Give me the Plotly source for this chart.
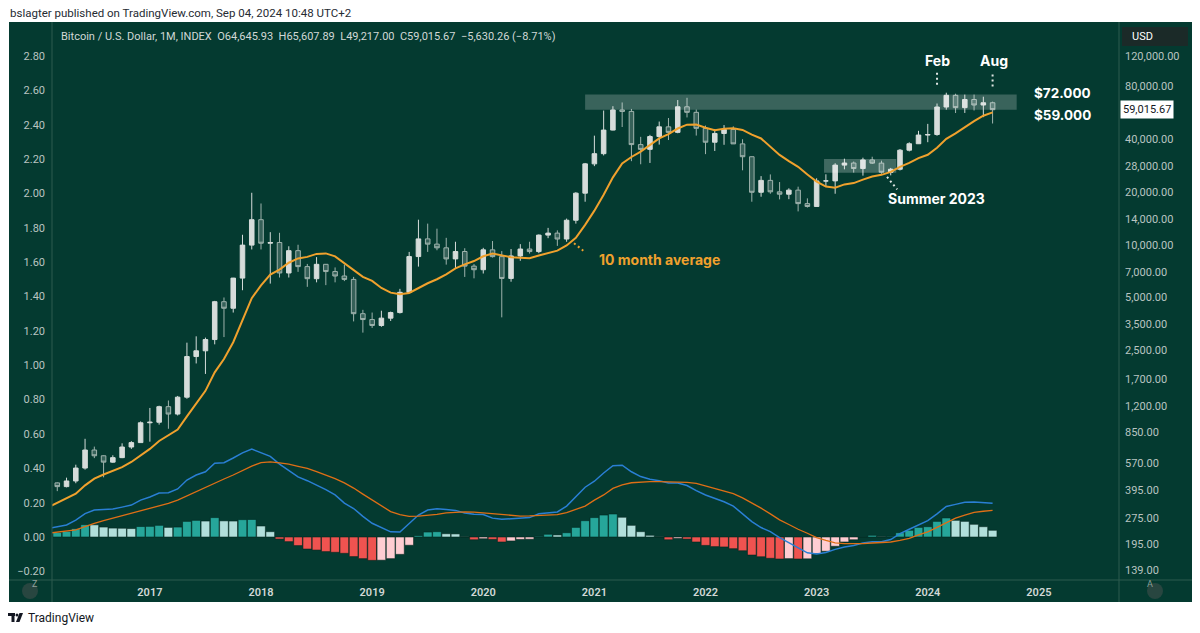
import numpy as np
import plotly.graph_objects as go

# ---------------- data ----------------
months = [f"{y}-{m:02d}" for y in range(2016, 2025) for m in range(1, 13)
          if (2016, 3) <= (y, m) <= (2024, 8)]

opens = [437, 416, 448, 531, 673, 624, 574, 609, 700, 742,
         963, 970, 1190, 1080, 1348, 2300, 2480, 2875, 4730, 4340, 6450, 9950,
         13900, 10200, 10300, 6900, 9250, 7500, 6400, 7730, 7030, 6630, 6340, 4040,
         3740, 3460, 3810, 4100, 5350, 8560, 10800, 10080, 9600, 8300, 9150, 7550,
         7200, 9350, 8550, 6420, 8630, 9450, 9140, 11350, 11650, 10780, 13800, 19700,
         28950, 33100, 45150, 58800, 57700, 37300, 35040, 41460, 47100, 43800, 61300, 57000,
         46200, 38480, 43180, 45530, 37650, 31800, 19930, 23300, 20050, 19430, 20500, 17170,
         16540, 23130, 23150, 28480, 29270, 27220, 30480, 29230, 25930, 26970, 34650, 37720,
         42280, 42580, 61130, 71290, 60640, 67490, 62760, 64645.93]
highs = [440, 468, 555, 780, 704, 627, 628, 735, 756, 980,
         1170, 1205, 1290, 1370, 2760, 3000, 2950, 4780, 5000, 6470, 11400, 19800,
         17200, 11800, 11700, 9800, 10000, 7770, 8500, 7750, 7420, 7700, 6550, 4250,
         4100, 4200, 4150, 5600, 9100, 13900, 13200, 12350, 10950, 10400, 9550, 7750,
         9600, 10500, 9200, 9450, 10080, 10400, 11450, 12480, 12080, 14100, 19950, 29300,
         41950, 58350, 61800, 64900, 59600, 41300, 42400, 50500, 52900, 67000, 69000, 59100,
         47900, 45800, 48200, 47400, 40000, 31900, 24650, 25200, 22800, 21000, 21450, 18400,
         23950, 25250, 29200, 31000, 29850, 31400, 31800, 30200, 27450, 35200, 38450, 44700,
         48970, 64000, 73780, 72800, 71980, 72000, 70000, 65607.89]
lows = [392, 412, 435, 520, 605, 470, 569, 605, 683, 742,
        751, 940, 890, 1060, 1320, 2100, 1830, 2700, 2970, 4100, 5500, 9400,
        9400, 6000, 6500, 6500, 7000, 5750, 6100, 5880, 6100, 6200, 3650, 3150,
        3350, 3400, 3670, 4050, 5300, 7500, 9100, 9300, 7700, 7300, 6550, 6430,
        6850, 8450, 3850, 6150, 8100, 8900, 8950, 10900, 9850, 10400, 13200, 17600,
        28100, 32350, 44950, 47000, 30000, 28800, 29300, 37300, 39600, 43300, 53300, 42000,
        32900, 34300, 37200, 37600, 26600, 17600, 18800, 19550, 18150, 18200, 15500, 16300,
        16500, 21400, 19550, 26950, 25800, 24800, 28900, 25400, 24900, 26550, 34100, 37600,
        38500, 41900, 59000, 56500, 56550, 58400, 53500, 49217.00]
closes = [416, 448, 531, 673, 624, 574, 609, 700, 742, 963,
          970, 1190, 1080, 1348, 2300, 2480, 2875, 4730, 4340, 6450, 9950, 13900,
          10200, 10300, 6900, 9250, 7500, 6400, 7730, 7030, 6630, 6340, 4040, 3740,
          3460, 3810, 4100, 5350, 8560, 10800, 10080, 9600, 8300, 9150, 7550, 7200,
          9350, 8550, 6420, 8630, 9450, 9140, 11350, 11650, 10780, 13800, 19700, 28950,
          33100, 45150, 58800, 57700, 37300, 35040, 41460, 47100, 43800, 61300, 57000, 46200,
          38480, 43180, 45530, 37650, 31800, 19930, 23300, 20050, 19430, 20500, 17170, 16540,
          23130, 23150, 28480, 29270, 27220, 30480, 29230, 25930, 26970, 34650, 37720, 42280,
          42580, 61130, 71290, 60640, 67490, 62760, 64645.93, 59015.67]

# line series start one month earlier (Feb 2016) so they reach the left edge
line_months = ["2016-02"] + months
ma10 = [317, 336, 354, 379, 423, 462, 488, 511, 538, 575, 628,
        683, 758, 813, 880, 1048, 1238, 1465, 1868, 2228, 2776, 3679, 4950,
        5862, 6758, 7218, 7895, 8357, 8524, 8863, 8921, 8584, 7828, 7212, 6556,
        6212, 5668, 5328, 5223, 5306, 5683, 6028, 6354, 6780, 7321, 7730, 8069,
        8594, 8914, 8700, 8483, 8420, 8374, 8679, 8929, 9252, 9912, 10947, 12987,
        15655, 19307, 24242, 29098, 31693, 34032, 37100, 40430, 42840, 46075, 48465, 48570,
        46538, 45086, 45909, 46170, 45204, 42487, 40437, 36312, 32555, 29985, 27854, 25190,
        22950, 21500, 21168, 22102, 22494, 23537, 24517, 25060, 26040, 27851, 29310, 31223,
        32633, 35819, 40226, 43242, 47068, 50751, 54519, 56955]
macd = [0.05, 0.06, 0.07, 0.098, 0.136, 0.157, 0.16, 0.163, 0.174, 0.186, 0.215,
        0.233, 0.256, 0.258, 0.28, 0.332, 0.361, 0.38, 0.43, 0.433, 0.46, 0.49, 0.512,
        0.49, 0.47, 0.425, 0.39, 0.35, 0.328, 0.303, 0.276, 0.245, 0.197, 0.166, 0.12,
        0.08, 0.055, 0.03, 0.029, 0.078, 0.128, 0.157, 0.165, 0.16, 0.155, 0.14, 0.133,
        0.131, 0.11, 0.103, 0.107, 0.112, 0.113, 0.135, 0.14, 0.146, 0.18, 0.235, 0.29,
        0.325, 0.373, 0.415, 0.418, 0.38, 0.352, 0.336, 0.328, 0.315, 0.315, 0.3, 0.27,
        0.245, 0.226, 0.205, 0.18, 0.135, 0.09, 0.055, 0.031, -0.004, -0.033, -0.064, -0.092,
        -0.099, -0.09, -0.072, -0.058, -0.05, -0.035, -0.028, -0.028, -0.015, 0.02, 0.045, 0.068,
        0.095, 0.135, 0.178, 0.19, 0.203, 0.204, 0.201, 0.196]
signal = [0.022, 0.027, 0.033, 0.041, 0.06, 0.08, 0.095, 0.109, 0.123, 0.138, 0.152,
          0.167, 0.181, 0.196, 0.215, 0.24, 0.264, 0.29, 0.316, 0.338, 0.361, 0.387, 0.413,
          0.433, 0.437, 0.432, 0.425, 0.412, 0.4, 0.381, 0.361, 0.34, 0.315, 0.285, 0.25,
          0.215, 0.185, 0.148, 0.13, 0.12, 0.122, 0.126, 0.132, 0.14, 0.144, 0.146, 0.145,
          0.141, 0.137, 0.131, 0.127, 0.122, 0.123, 0.125, 0.128, 0.13, 0.142, 0.16, 0.18,
          0.215, 0.245, 0.283, 0.303, 0.316, 0.321, 0.323, 0.323, 0.322, 0.321, 0.318, 0.312,
          0.297, 0.28, 0.266, 0.253, 0.228, 0.2, 0.168, 0.135, 0.1, 0.073, 0.045, 0.022,
          -0.004, -0.02, -0.034, -0.038, -0.039, -0.038, -0.035, -0.033, -0.029, -0.02, -0.008, 0.012,
          0.03, 0.056, 0.085, 0.11, 0.128, 0.143, 0.15, 0.155]
hist = [0.026, 0.033, 0.049, 0.072, 0.071, 0.058, 0.052, 0.051, 0.049, 0.061,
        0.062, 0.068, 0.056, 0.058, 0.091, 0.097, 0.093, 0.113, 0.094, 0.093, 0.101, 0.102,
        0.064, 0.031, -0.012, -0.027, -0.05, -0.07, -0.076, -0.085, -0.089, -0.095, -0.114, -0.126,
        -0.136, -0.135, -0.126, -0.101, -0.048, 0.008, 0.029, 0.031, 0.019, 0.018, 0.002, -0.016,
        -0.01, -0.014, -0.029, -0.023, -0.014, -0.013, 0.004, 0.016, 0.012, 0.025, 0.056, 0.095,
        0.113, 0.128, 0.134, 0.115, 0.068, 0.031, 0.01, 0.002, -0.016, -0.008, -0.012, -0.029,
        -0.049, -0.056, -0.058, -0.068, -0.08, -0.105, -0.115, -0.124, -0.128, -0.126, -0.128, -0.127,
        -0.097, -0.083, -0.054, -0.029, -0.016, 0.002, 0.01, 0.003, 0.004, 0.025, 0.039, 0.056,
        0.06, 0.091, 0.111, 0.097, 0.091, 0.074, 0.06, 0.039]

year_labels = ["2017", "2018", "2019", "2020", "2021", "2022", "2023", "2024", "2025"]
left_ticks = [-0.2, 0.0, 0.2, 0.4, 0.6, 0.8, 1.0, 1.2, 1.4, 1.6, 1.8, 2.0, 2.2, 2.4, 2.6, 2.8]
right_ticks = [139, 195, 275, 395, 570, 850, 1200, 1700, 2500, 3500, 5000, 7000,
               10000, 14000, 20000, 28000, 40000, 80000, 120000]
resistance = [59000, 72000]          # upper zone
summer_zone = [25800, 30900]         # summer 2023 range

# ---------------- helpers ----------------
pos = {m: i for i, m in enumerate(months)}
xi = list(range(len(months)))
line_x = list(range(-1, len(months)))
def mpos(label):
    y, m = map(int, label.split("-"))
    return (y - 2016) * 12 + (m - 3)

BG = "#043a30"
SEP = "#2c5a4f"
TXT = "#b9c4c1"

TEAL, LTEAL, RED, PINK = "#26a69a", "#b2dfdb", "#ef5350", "#ffcdd2"
hcol = []
prev = None
for v in hist:
    if v >= 0:
        hcol.append(TEAL if (prev is None or v > prev) else LTEAL)
    else:
        hcol.append(PINK if (prev is not None and v > prev) else RED)
    prev = v

fig = go.Figure()

# MACD pane (left scale)
fig.add_trace(go.Bar(x=xi, y=hist, marker=dict(color=hcol, line=dict(color="rgba(0,35,28,0.55)", width=1)),
                     yaxis="y", hoverinfo="skip", showlegend=False))
fig.add_trace(go.Scatter(x=line_x, y=macd, mode="lines", line=dict(color="#2a7fd4", width=1.5),
                         yaxis="y", hoverinfo="skip", showlegend=False))
fig.add_trace(go.Scatter(x=line_x, y=signal, mode="lines", line=dict(color="#df6f16", width=1.3),
                         yaxis="y", hoverinfo="skip", showlegend=False))

# zones (price scale)
zx0, zx1 = pos["2020-12"], pos["2024-08"] + 2.6
fig.add_trace(go.Scatter(x=[zx0, zx1, zx1, zx0, zx0],
                         y=[resistance[0], resistance[0], resistance[1], resistance[1], resistance[0]],
                         mode="lines", line=dict(width=0), fill="toself", fillcolor="rgba(255,255,255,0.21)",
                         yaxis="y2", hoverinfo="skip", showlegend=False))
sx0, sx1 = pos["2023-01"] + 0.8, pos["2023-09"] + 0.6
fig.add_trace(go.Scatter(x=[sx0, sx1, sx1, sx0, sx0],
                         y=[summer_zone[0], summer_zone[0], summer_zone[1], summer_zone[1], summer_zone[0]],
                         mode="lines", line=dict(width=0), fill="toself", fillcolor="rgba(255,255,255,0.24)",
                         yaxis="y2", hoverinfo="skip", showlegend=False))

# candles
fig.add_trace(go.Candlestick(x=xi, open=opens, high=highs, low=lows, close=closes, yaxis="y2",
                             increasing=dict(line=dict(color="#d6dcda", width=1), fillcolor="#d6dcda"),
                             decreasing=dict(line=dict(color="#9fb3ad", width=1), fillcolor="rgba(255,255,255,0.2)"),
                             whiskerwidth=0, hoverinfo="skip", showlegend=False))
# 10 month average
fig.add_trace(go.Scatter(x=line_x, y=ma10, mode="lines", line=dict(color="#f0a12d", width=2),
                         yaxis="y2", hoverinfo="skip", showlegend=False))

# dotted pointer lines
def dots(x0, y0, x1, y1, color):
    fig.add_trace(go.Scatter(x=[x0, x1], y=[y0, y1], mode="lines",
                             line=dict(color=color, width=2, dash="2px,3px"),
                             yaxis="y2", hoverinfo="skip", showlegend=False))
dots(pos["2024-02"], 82000, pos["2024-02"], 96000, "#dfe5e3")
dots(pos["2024-08"], 80000, pos["2024-08"], 96000, "#dfe5e3")
dots(pos["2023-09"] - 0.4, 24400, pos["2023-09"] + 0.7, 20700, "#dfe5e3")
dots(pos["2020-11"] - 0.2, 10200, pos["2020-11"] + 0.8, 9250, "#f0a12d")

L, R, T, B = 52, 81, 22, 53
W, H = 1200, 633
pw, ph = W - L - R, H - T - B
def px(x): return (x - L) / pw
def py(y): return (H - B - y) / ph

shapes = [
    dict(type="rect", xref="paper", yref="paper", x0=px(9), x1=px(1192), y0=py(602), y1=py(22),
         fillcolor=BG, line=dict(width=0), layer="below"),
    dict(type="line", xref="paper", yref="paper", x0=px(9), x1=px(1192), y0=0, y1=0,
         line=dict(color=SEP, width=1)),
    dict(type="line", xref="paper", yref="paper", x0=0, x1=0, y0=py(602), y1=1,
         line=dict(color=SEP, width=1)),
    dict(type="line", xref="paper", yref="paper", x0=1, x1=1, y0=py(602), y1=1,
         line=dict(color=SEP, width=1)),
    dict(type="rect", xref="paper", yref="paper", x0=px(1122), x1=px(1188), y0=py(46), y1=py(27),
         fillcolor="#1b2a28", line=dict(width=0)),
    dict(type="circle", xref="paper", yref="paper", x0=px(22), x1=px(38), y0=py(599), y1=py(583),
         fillcolor="#284640", line=dict(width=0)),
    dict(type="circle", xref="paper", yref="paper", x0=px(1147), x1=px(1163), y0=py(599), y1=py(583),
         fillcolor="#284640", line=dict(width=0)),
    # TradingView logo mark
    dict(type="rect", xref="paper", yref="paper", x0=px(8), x1=px(15), y0=py(616), y1=py(613),
         fillcolor="#131722", line=dict(width=0)),
    dict(type="rect", xref="paper", yref="paper", x0=px(11.5), x1=px(14.5), y0=py(622), y1=py(613),
         fillcolor="#131722", line=dict(width=0)),
    dict(type="circle", xref="paper", yref="paper", x0=px(15.5), x1=px(18.5), y0=py(616.5), y1=py(613.5),
         fillcolor="#131722", line=dict(width=0)),
    dict(type="path", xref="paper", yref="paper",
         path=f"M {px(19.5)},{py(613)} L {px(23)},{py(613)} L {px(19.5)},{py(622)} L {px(16)},{py(622)} Z",
         fillcolor="#131722", line=dict(width=0)),
]

o, h, l, c = opens[-1], highs[-1], lows[-1], closes[-1]
chg = c - o
header = (f"Bitcoin / U.S. Dollar, 1M, INDEX  O{o:,.2f}  H{h:,.2f}  L{l:,.2f}  C{c:,.2f}  "
          f"{chg:,.2f} ({chg / o * 100:.2f}%)").replace("-", "\u2212")

def lg(v): return float(np.log10(v))
ann = [
    dict(text="bslagter published on TradingView.com, Sep 04, 2024 10:48 UTC+2", xref="paper", yref="paper",
         x=px(8), y=py(13), xanchor="left", yanchor="middle", showarrow=False,
         font=dict(family="Roboto", size=11.5, color="#262b33")),
    dict(text=header, xref="paper", yref="paper", x=px(59), y=py(37), xanchor="left", yanchor="middle",
         showarrow=False, font=dict(family="Roboto", size=11, color="#d1d8d6")),
    dict(text="TradingView", xref="paper", yref="paper", x=px(26), y=py(618), xanchor="left",
         yanchor="middle", showarrow=False, font=dict(family="Roboto", size=12, color="#131722")),
    dict(text="USD", xref="paper", yref="paper", x=px(1130), y=py(37), xanchor="left", yanchor="middle",
         showarrow=False, font=dict(family="Roboto", size=11, color="#ffffff")),
    dict(text=f"{c:,.2f}", xref="paper", yref="y2", x=px(1120), y=lg(c), xanchor="left", yanchor="middle",
         showarrow=False, bgcolor="#ffffff", borderpad=2,
         font=dict(family="Roboto", size=11, color="#131722")),
    dict(text="Z", xref="paper", yref="paper", x=px(30), y=py(591), showarrow=False,
         font=dict(family="Roboto", size=9, color="#8fa09b")),
    dict(text="A", xref="paper", yref="paper", x=px(1155), y=py(591), showarrow=False,
         font=dict(family="Roboto", size=9, color="#8fa09b")),
    dict(text="<b>Feb</b>", x=pos["2024-02"], y=lg(112000), xref="x", yref="y2", showarrow=False,
         font=dict(family="Inter", size=14, color="#ffffff")),
    dict(text="<b>Aug</b>", x=pos["2024-08"] + 0.2, y=lg(112000), xref="x", yref="y2", showarrow=False,
         font=dict(family="Inter", size=14, color="#ffffff")),
    dict(text="<b>$72.000</b>", x=pos["2024-08"] + 4.3, y=lg(73400), xref="x", yref="y2", xanchor="left",
         showarrow=False, font=dict(family="Inter", size=13.5, color="#ffffff")),
    dict(text="<b>$59.000</b>", x=pos["2024-08"] + 4.3, y=lg(55000), xref="x", yref="y2", xanchor="left",
         showarrow=False, font=dict(family="Inter", size=13.5, color="#ffffff")),
    dict(text="<b>Summer 2023</b>", x=pos["2024-01"] + 0.9, y=lg(18250), xref="x", yref="y2",
         showarrow=False, font=dict(family="Inter", size=14, color="#ffffff")),
    dict(text="<b>10 month average</b>", x=pos["2020-12"] + 1.3, y=lg(8290), xref="x", yref="y2",
         xanchor="left", showarrow=False, font=dict(family="Inter", size=14, color="#f0a12d")),
]

fig.update_layout(
    width=W, height=H, margin=dict(l=L, r=R, t=T, b=B),
    paper_bgcolor="#ffffff", plot_bgcolor=BG,
    shapes=shapes, annotations=ann, bargap=0.06, showlegend=False,
    xaxis=dict(range=[-0.57, 114.65], tickmode="array",
               tickvals=[mpos(f"{y}-01") for y in year_labels], ticktext=year_labels,
               showgrid=False, zeroline=False, showline=False, ticks="", ticklabelstandoff=4,
               tickfont=dict(family="Roboto", size=11, color="#d1d8d6", weight=600),
               rangeslider=dict(visible=False), fixedrange=True),
    yaxis=dict(range=[-0.2504, 2.9994], tickmode="array", tickvals=left_ticks,
               ticktext=[f"{v:.2f}".replace("-", "\u2212") for v in left_ticks],
               showgrid=False, zeroline=False, showline=False, ticks="", ticklabelstandoff=6,
               tickfont=dict(family="Roboto", size=11, color=TXT), side="left", fixedrange=True),
    yaxis2=dict(type="log", range=[2.0860, 5.2716], overlaying="y", side="right",
                tickmode="array", tickvals=right_ticks, ticktext=[f"{v:,.2f}" for v in right_ticks],
                showgrid=False, zeroline=False, showline=False, ticks="", ticklabelstandoff=5,
                tickfont=dict(family="Roboto", size=11, color=TXT), fixedrange=True),
)

fig.write_html("out.html", config={"displayModeBar": False},
               post_script="document.body.style.margin='0';document.body.style.overflow='hidden';")
